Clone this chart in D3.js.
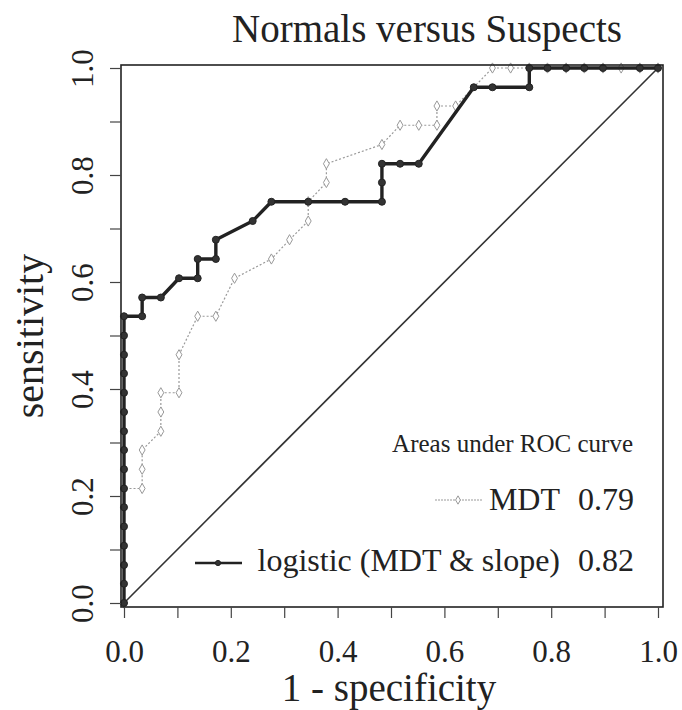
<!DOCTYPE html>
<html>
<head>
<meta charset="utf-8">
<script src="https://cdn.jsdelivr.net/npm/d3@7"></script>
<style>
  body { margin: 0; background: #fff; }
  text { font-family: "Liberation Serif", "Times New Roman", serif; fill: #222; }
</style>
</head>
<body>
<svg id="chart" width="682" height="710"></svg>
<script>
'use strict';

// ROC points (1 - specificity, sensitivity)
var mdtFpr = [0, 0, 0.034, 0.034, 0.034, 0.069, 0.069, 0.069, 0.103, 0.103, 0.138, 0.172,
  0.207, 0.276, 0.310, 0.345, 0.345, 0.379, 0.379, 0.483, 0.517, 0.552, 0.586, 0.586,
  0.621, 0.690, 0.724, 0.759, 0.793, 0.828, 0.862, 0.897, 0.931, 0.966, 1];
var mdtTpr = [0, 0.214, 0.214, 0.250, 0.286, 0.321, 0.357, 0.393, 0.393, 0.464, 0.536, 0.536,
  0.607, 0.643, 0.679, 0.714, 0.750, 0.786, 0.821, 0.857, 0.893, 0.893, 0.893, 0.929,
  0.929, 1, 1, 1, 1, 1, 1, 1, 1, 1, 1];

var logFpr = [0, 0, 0, 0, 0, 0, 0, 0, 0, 0, 0, 0, 0, 0, 0, 0,
  0.034, 0.034, 0.069, 0.103, 0.138, 0.138, 0.172, 0.172, 0.241, 0.276, 0.345, 0.414,
  0.483, 0.483, 0.483, 0.517, 0.552, 0.655, 0.690, 0.759, 0.759, 0.793, 0.828, 0.862,
  0.897, 0.966, 1];
var logTpr = [0, 0.036, 0.071, 0.107, 0.143, 0.179, 0.214, 0.250, 0.286, 0.321, 0.357, 0.393,
  0.429, 0.464, 0.500, 0.536,
  0.536, 0.571, 0.571, 0.607, 0.607, 0.643, 0.643, 0.679, 0.714, 0.750, 0.750, 0.750,
  0.750, 0.786, 0.821, 0.821, 0.821, 0.964, 0.964, 0.964, 1, 1, 1, 1,
  1, 1, 1];

var tickValues = [0, 0.1, 0.2, 0.3, 0.4, 0.5, 0.6, 0.7, 0.8, 0.9, 1];
var tickLabels = ['0.0', '0.2', '0.4', '0.6', '0.8', '1.0'];
var aucLabels = ['MDT', 'logistic (MDT & slope)'];
var aucValues = ['0.79', '0.82'];

var svg = d3.select('#chart');

var box = { left: 121, right: 663, top: 65, bottom: 607 };

var x = d3.scaleLinear().domain([0, 1]).range([124, 658]);
var y = d3.scaleLinear().domain([0, 1]).range([603, 68]);

function zip(a, b) {
  return a.map(function (v, i) { return [v, b[i]]; });
}

var mdt = zip(mdtFpr, mdtTpr),
    logistic = zip(logFpr, logTpr);

var line = d3.line()
  .x(function (d) { return x(d[0]); })
  .y(function (d) { return y(d[1]); });

// chance line
svg.append('line')
  .attr('x1', x(0)).attr('y1', y(0))
  .attr('x2', x(1)).attr('y2', y(1))
  .attr('stroke', '#333').attr('stroke-width', 1.6);

// MDT curve: thin dotted grey with small open markers
svg.append('path')
  .attr('d', line(mdt))
  .attr('fill', 'none')
  .attr('stroke', '#999')
  .attr('stroke-width', 1.2)
  .attr('stroke-dasharray', '2,2');

var diamond = d3.symbol().type(d3.symbolDiamond).size(30);

svg.selectAll('.mdt-pt')
  .data(mdt)
  .enter().append('path')
  .attr('class', 'mdt-pt')
  .attr('d', diamond)
  .attr('transform', function (d) { return 'translate(' + x(d[0]) + ',' + y(d[1]) + ')'; })
  .attr('fill', '#fff')
  .attr('stroke', '#999')
  .attr('stroke-width', 1);

// logistic curve: thick black with filled dots
svg.append('path')
  .attr('d', line(logistic))
  .attr('fill', 'none')
  .attr('stroke', '#222')
  .attr('stroke-width', 3.4)
  .attr('stroke-linejoin', 'round');

svg.selectAll('.log-pt')
  .data(logistic)
  .enter().append('circle')
  .attr('class', 'log-pt')
  .attr('cx', function (d) { return x(d[0]); })
  .attr('cy', function (d) { return y(d[1]); })
  .attr('r', 3.5)
  .attr('fill', '#333')
  .attr('stroke', '#222')
  .attr('stroke-width', 1);

// plot frame
svg.append('rect')
  .attr('x', box.left).attr('y', box.top)
  .attr('width', box.right - box.left)
  .attr('height', box.bottom - box.top)
  .attr('fill', 'none')
  .attr('stroke', '#222')
  .attr('stroke-width', 1.6);

// axes: ticks every 0.1, labels every 0.2
var fmt = function (d) {
  var s = d3.format('.1f')(d);
  return tickLabels.indexOf(s) >= 0 ? s : '';
};

var xAxis = svg.append('g')
  .attr('transform', 'translate(0,' + box.bottom + ')')
  .call(d3.axisBottom(x).tickValues(tickValues).tickFormat(fmt).tickSize(11).tickPadding(22));

var yAxis = svg.append('g')
  .attr('transform', 'translate(' + box.left + ',0)')
  .call(d3.axisLeft(y).tickValues(tickValues).tickFormat(fmt).tickSize(11).tickPadding(0));

[xAxis, yAxis].forEach(function (g) {
  g.select('.domain').remove();
  g.selectAll('.tick line').attr('stroke', '#444').attr('stroke-width', 1.2);
  g.selectAll('.tick text')
    .style('font-family', '"Liberation Serif", serif')
    .style('font-size', '31px')
    .attr('fill', '#222');
});

yAxis.selectAll('.tick text')
  .attr('x', null).attr('dy', null)
  .attr('text-anchor', 'middle')
  .attr('transform', 'translate(-28,0) rotate(-90)');

// titles
svg.append('text')
  .attr('x', 427).attr('y', 42)
  .attr('text-anchor', 'middle')
  .style('font-size', '39px')
  .text('Normals versus Suspects');

svg.append('text')
  .attr('x', (box.left + box.right) / 2 - 3).attr('y', 701)
  .attr('text-anchor', 'middle')
  .style('font-size', '39px')
  .text('1 - specificity');

svg.append('text')
  .attr('transform', 'translate(43,' + ((box.top + box.bottom) / 2) + ') rotate(-90)')
  .attr('text-anchor', 'middle')
  .style('font-size', '40px')
  .text('sensitivity');

// legend
var legend = svg.append('g');

legend.append('text')
  .attr('x', 633).attr('y', 452)
  .attr('text-anchor', 'end')
  .style('font-size', '25px')
  .text('Areas under ROC curve');

var rows = [510, 571];

legend.selectAll('.auc-name')
  .data(aucLabels)
  .enter().append('text')
  .attr('x', 560)
  .attr('y', function (d, i) { return rows[i]; })
  .attr('text-anchor', 'end')
  .style('font-size', '32px')
  .text(function (d) { return d; });

legend.selectAll('.auc-val')
  .data(aucValues)
  .enter().append('text')
  .attr('x', 634)
  .attr('y', function (d, i) { return rows[i]; })
  .attr('text-anchor', 'end')
  .style('font-size', '32px')
  .text(function (d) { return d; });

// legend keys
legend.append('line')
  .attr('x1', 435).attr('x2', 482).attr('y1', 500).attr('y2', 500)
  .attr('stroke', '#999').attr('stroke-width', 1.2).attr('stroke-dasharray', '2,1');
legend.append('path')
  .attr('d', d3.symbol().type(d3.symbolDiamond).size(20))
  .attr('transform', 'translate(458,500)')
  .attr('fill', '#fff').attr('stroke', '#999');

legend.append('line')
  .attr('x1', 195).attr('x2', 242).attr('y1', 563).attr('y2', 563)
  .attr('stroke', '#222').attr('stroke-width', 2.6);
legend.append('circle')
  .attr('cx', 218).attr('cy', 563).attr('r', 2.6)
  .attr('fill', '#333').attr('stroke', '#222');
</script>
</body>
</html>
